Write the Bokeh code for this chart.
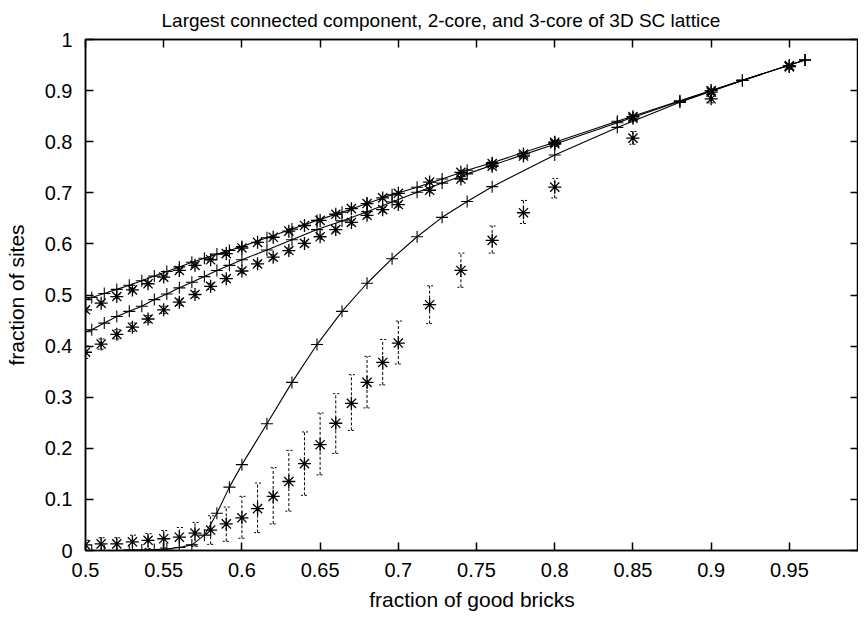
from bokeh.plotting import figure
from bokeh.models import (ColumnDataSource, Whisker, TeeHead, LinearAxis,
                          FixedTicker, Range1d, CustomLabelingPolicy)
from bokeh.embed import file_html
from bokeh.resources import INLINE

# ---------------- data ----------------
x_theory = [0.500, 0.504, 0.512, 0.520, 0.528, 0.536, 0.544, 0.552, 0.560,
            0.568, 0.576, 0.584, 0.592, 0.600, 0.616, 0.632, 0.648, 0.664,
            0.680, 0.696, 0.712, 0.728, 0.744, 0.760, 0.800, 0.840, 0.880,
            0.920, 0.960]
lcc_theory = [0.491, 0.495, 0.503, 0.511, 0.519, 0.528, 0.537, 0.546, 0.555,
              0.564, 0.572, 0.580, 0.587, 0.595, 0.612, 0.629, 0.646, 0.662,
              0.679, 0.696, 0.711, 0.727, 0.744, 0.759, 0.799, 0.840, 0.880,
              0.920, 0.960]
core2_theory = [0.428, 0.432, 0.445, 0.458, 0.468, 0.478, 0.491, 0.502, 0.514,
                0.525, 0.536, 0.548, 0.558, 0.569, 0.588, 0.608, 0.628, 0.645,
                0.663, 0.682, 0.701, 0.719, 0.737, 0.754, 0.795, 0.837, 0.879,
                0.920, 0.960]
core3_theory = [0.000, 0.000, 0.000, 0.000, 0.001, 0.001, 0.002, 0.003, 0.006,
                0.011, 0.030, 0.073, 0.124, 0.168, 0.248, 0.329, 0.403, 0.468,
                0.523, 0.571, 0.614, 0.652, 0.683, 0.712, 0.774, 0.828, 0.877,
                0.920, 0.960]

x_data = [0.50, 0.51, 0.52, 0.53, 0.54, 0.55, 0.56, 0.57, 0.58, 0.59, 0.60,
          0.61, 0.62, 0.63, 0.64, 0.65, 0.66, 0.67, 0.68, 0.69, 0.70,
          0.72, 0.74, 0.76, 0.78, 0.80, 0.85, 0.90, 0.95]
lcc_data = [0.471, 0.484, 0.497, 0.510, 0.522, 0.535, 0.548, 0.558, 0.569,
            0.581, 0.592, 0.603, 0.613, 0.625, 0.636, 0.646, 0.658, 0.669,
            0.679, 0.690, 0.699, 0.721, 0.740, 0.757, 0.776, 0.799, 0.849,
            0.900, 0.949]
lcc_err = [0.004, 0.004, 0.004, 0.004, 0.004, 0.004, 0.004, 0.003, 0.003,
           0.003, 0.003, 0.003, 0.003, 0.003, 0.003, 0.003, 0.003, 0.003,
           0.003, 0.003, 0.003, 0.003, 0.003, 0.003, 0.003, 0.003, 0.003,
           0.003, 0.003]
core2_data = [0.388, 0.404, 0.423, 0.437, 0.453, 0.471, 0.486, 0.501, 0.517,
              0.532, 0.547, 0.561, 0.574, 0.587, 0.601, 0.614, 0.628, 0.642,
              0.656, 0.667, 0.677, 0.705, 0.727, 0.752, 0.772, 0.796, 0.846,
              0.897, 0.947]
core2_err = [0.012, 0.010, 0.009, 0.008, 0.007, 0.007, 0.006, 0.006, 0.006,
             0.005, 0.005, 0.005, 0.005, 0.005, 0.005, 0.005, 0.005, 0.005,
             0.005, 0.005, 0.005, 0.005, 0.005, 0.005, 0.005, 0.005, 0.005,
             0.004, 0.004]
core3_data = [0.011, 0.013, 0.013, 0.017, 0.020, 0.023, 0.026, 0.034, 0.040,
              0.052, 0.064, 0.082, 0.106, 0.135, 0.170, 0.207, 0.249, 0.288,
              0.329, 0.368, 0.406, 0.481, 0.548, 0.607, 0.661, 0.711, 0.807,
              0.884, 0.947]
core3_hi = [0.020, 0.025, 0.025, 0.030, 0.033, 0.039, 0.045, 0.055, 0.068,
            0.085, 0.106, 0.132, 0.162, 0.196, 0.232, 0.269, 0.307, 0.344,
            0.380, 0.413, 0.449, 0.518, 0.582, 0.635, 0.685, 0.728, 0.820,
            0.892, 0.952]
core3_lo = [0.000, 0.000, 0.000, 0.002, 0.004, 0.005, 0.006, 0.008, 0.012,
            0.018, 0.024, 0.035, 0.052, 0.077, 0.108, 0.148, 0.190, 0.235,
            0.279, 0.324, 0.365, 0.444, 0.515, 0.582, 0.640, 0.690, 0.795,
            0.876, 0.942]

x_ticks = [0.5, 0.55, 0.6, 0.65, 0.7, 0.75, 0.8, 0.85, 0.9, 0.95, 1]
x_tick_labels = ["0.5", "0.55", "0.6", "0.65", "0.7", "0.75", "0.8", "0.85",
                 "0.9", "0.95", "1"]
y_ticks = [0, 0.1, 0.2, 0.3, 0.4, 0.5, 0.6, 0.7, 0.8, 0.9, 1]
y_tick_labels = ["0", "0.1", "0.2", "0.3", "0.4", "0.5", "0.6", "0.7", "0.8",
                 "0.9", "1"]

title_text = "Largest connected component, 2-core, and 3-core of 3D SC lattice"
x_label = "fraction of good bricks"
y_label = "fraction of sites"

# ---------------- figure ----------------
FONT = "Liberation Sans"

p = figure(width=858, height=613, output_backend="svg", toolbar_location=None,
           x_range=Range1d(0.5, 0.9942), y_range=Range1d(0, 1),
           min_border_left=85, min_border_right=0, min_border_top=39,
           min_border_bottom=63, x_axis_label=x_label, y_axis_label=y_label)
p.xgrid.visible = False
p.ygrid.visible = False
p.outline_line_color = "black"
p.outline_line_width = 1.5
p.outline_line_alpha = 1
p.background_fill_color = "white"
p.border_fill_color = "white"

p.title.text = title_text
p.title.align = "left"
p.title.offset = 76
p.title.text_font = FONT
p.title.text_font_size = "19px"
p.title.text_font_style = "normal"
p.title.text_color = "black"
p.title.standoff = 14
p.title.vertical_align = "top"

xt = FixedTicker(ticks=x_ticks)
yt = FixedTicker(ticks=y_ticks)
x_over = {t: l for t, l in zip(x_ticks, x_tick_labels)}
y_over = {t: l for t, l in zip(y_ticks, y_tick_labels)}


def style_axis(ax, ticker, over, show_labels):
    ax.ticker = ticker
    ax.major_tick_in = 8
    ax.major_tick_out = 0
    ax.minor_tick_line_color = None
    ax.axis_line_color = "black"
    ax.axis_line_width = 1.5
    ax.major_tick_line_color = "black"
    ax.major_tick_line_width = 1.5
    ax.major_label_overrides = over
    ax.major_label_text_font = FONT
    ax.major_label_text_color = "black"
    if show_labels:
        ax.major_label_text_font_size = "20px"
        ax.major_label_standoff = 12
    else:
        ax.major_label_text_font_size = "0px"
        ax.major_label_standoff = 0
        ax.major_label_policy = CustomLabelingPolicy(
            code="for (const i of Array.from(indices)) indices.unset(i)")
    ax.axis_label_text_font = FONT
    ax.axis_label_text_font_size = "21px"
    ax.axis_label_text_font_style = "normal"
    ax.axis_label_text_color = "black"


for ax in p.xaxis:
    style_axis(ax, xt, x_over, True)
    ax.axis_label_standoff = 8
for ax in p.yaxis:
    style_axis(ax, yt, y_over, True)
    ax.major_label_standoff = 13
    ax.axis_label_standoff = 14

top_ax = LinearAxis()
style_axis(top_ax, xt, x_over, False)
p.add_layout(top_ax, "above")
right_ax = LinearAxis()
style_axis(right_ax, yt, y_over, False)
p.add_layout(right_ax, "right")

# theory curves
for ys in (lcc_theory, core2_theory, core3_theory):
    p.line(x_theory, ys, line_color="black", line_width=1.1)
    p.scatter(x_theory, ys, marker="cross", size=12, line_color="black",
              line_width=1.1)

# simulation data with error bars
for ys, lo, hi in (
        (lcc_data, [a - e for a, e in zip(lcc_data, lcc_err)],
         [a + e for a, e in zip(lcc_data, lcc_err)]),
        (core2_data, [a - e for a, e in zip(core2_data, core2_err)],
         [a + e for a, e in zip(core2_data, core2_err)]),
        (core3_data, core3_lo, core3_hi)):
    src = ColumnDataSource(dict(x=x_data, y=ys, lower=lo, upper=hi))
    w = Whisker(source=src, base="x", upper="upper", lower="lower",
                line_color="black", line_width=1, line_dash="3 2",
                upper_head=TeeHead(size=7, line_color="black", line_width=1,
                                   line_dash="2 2"),
                lower_head=TeeHead(size=7, line_color="black", line_width=1,
                                   line_dash="2 2"))
    p.add_layout(w)
    p.scatter("x", "y", source=src, marker="asterisk", size=13,
              line_color="black", line_width=1.3)

open("out.html", "w").write(file_html(p, INLINE))
